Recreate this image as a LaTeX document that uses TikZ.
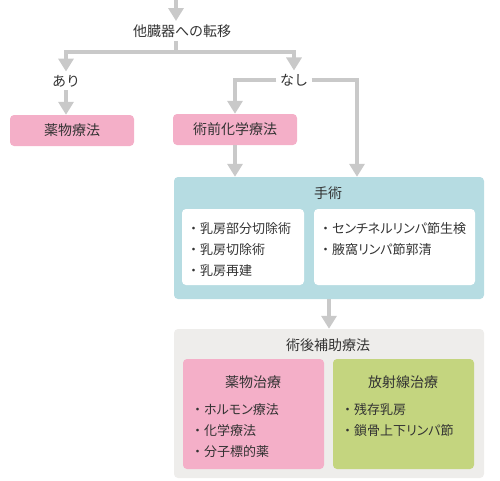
\documentclass[tikz,border=0pt]{standalone}
\usepackage{fontspec}
\setmainfont{Noto Sans CJK JP}
\usetikzlibrary{arrows.meta}

\definecolor{linegray}{HTML}{C9C9C9}
\definecolor{textgray}{HTML}{333333}
\definecolor{pinkfill}{HTML}{F4AFC8}
\definecolor{bluefill}{HTML}{B6DCE2}
\definecolor{greenfill}{HTML}{C4D57F}
\definecolor{grayfill}{HTML}{EEEDEB}

% proportional kana widths
\newcommand{\kanaprop}[1]{{\addfontfeatures{RawFeature=+palt}#1}}

\tikzset{
  flow/.style={line width=3.5pt, draw=linegray, -{Triangle[width=15pt, length=13pt]}},
  link/.style={line width=3.5pt, draw=linegray},
  panel/.style={rectangle, rounded corners=4pt, inner sep=0pt},
  item/.style={anchor=west, inner sep=0pt, font=\fontsize{13}{13}\selectfont},
}

\begin{document}
\begin{tikzpicture}[x=1pt, y=-1pt, font=\fontsize{14}{14}\selectfont, text=textgray]
\useasboundingbox (0,0) rectangle (500,480);

\coordinate (entry) at (176, 0);
\path (182, 31) node (metastasis) {他臓器への転移};
\coordinate (split) at (176, 52);

\path (66, 81) node (yes) {あり};
\path (294, 80) node (no) {なし};
\coordinate (bypass) at (357, 80);

\path (72, 130.5) node[panel, fill=pinkfill, minimum width=124pt, minimum height=31pt] (drug) {薬物療法};
\path (235, 129.5) node[panel, fill=pinkfill, minimum width=124pt, minimum height=31pt] (neoadj) {術前化学療法};

% surgery
\path (329, 238) node[panel, fill=bluefill, minimum width=310pt, minimum height=122pt] (surgery) {};
\path (328, 193) node (surgery_title) {手術};
\path (243, 247) node[panel, fill=white, minimum width=122pt, minimum height=76pt] (breast) {};
\path (394.5, 247) node[panel, fill=white, minimum width=161pt, minimum height=76pt] (lymph) {};
\path (187, 229) node[item] (breast_a) {・乳房部分切除術};
\path (187, 250) node[item] (breast_b) {・乳房切除術};
\path (187, 271) node[item] (breast_c) {・乳房再建};
\path (319, 229) node[item] (lymph_a) {・\kanaprop{センチネルリンパ節生検}};
\path (319, 250) node[item] (lymph_b) {・\kanaprop{腋窩リンパ節郭清}};

% adjuvant therapy
\path (329, 403.5) node[panel, fill=grayfill, minimum width=310pt, minimum height=149pt] (adjuvant) {};
\path (328, 345) node (adjuvant_title) {術後補助療法};
\path (253.5, 414) node[panel, fill=pinkfill, minimum width=141pt, minimum height=110pt] (medical) {};
\path (403.5, 414) node[panel, fill=greenfill, minimum width=141pt, minimum height=110pt] (radiation) {};
\path (253, 382) node (medical_title) {薬物治療};
\path (403, 382) node (radiation_title) {放射線治療};
\path (191, 410) node[item] (medical_a) {・\kanaprop{ホルモン療法}};
\path (191, 431) node[item] (medical_b) {・化学療法};
\path (191, 452) node[item] (medical_c) {・分子標的薬};
\path (341, 410) node[item] (radiation_a) {・残存乳房};
\path (341, 431) node[item] (radiation_b) {・\kanaprop{鎖骨上下リンパ節}};

\draw[flow] (entry) -- (entry |- metastasis.north);
\draw[link] (split |- metastasis.south) -- (split);
\draw[flow] (split) -| (yes.north);
\draw[flow] (split) -| (no.north);
\draw[flow] (yes.south) -- (yes.south |- drug.north);
\draw[flow] (no.west) -| (neoadj.north);
\draw[flow] (no.east) -- (bypass) -- (bypass |- surgery.north);
\draw[flow] (neoadj.south) -- (neoadj.south |- surgery.north);
\draw[flow] (surgery.south) -- (adjuvant.north);
\end{tikzpicture}
\end{document}
